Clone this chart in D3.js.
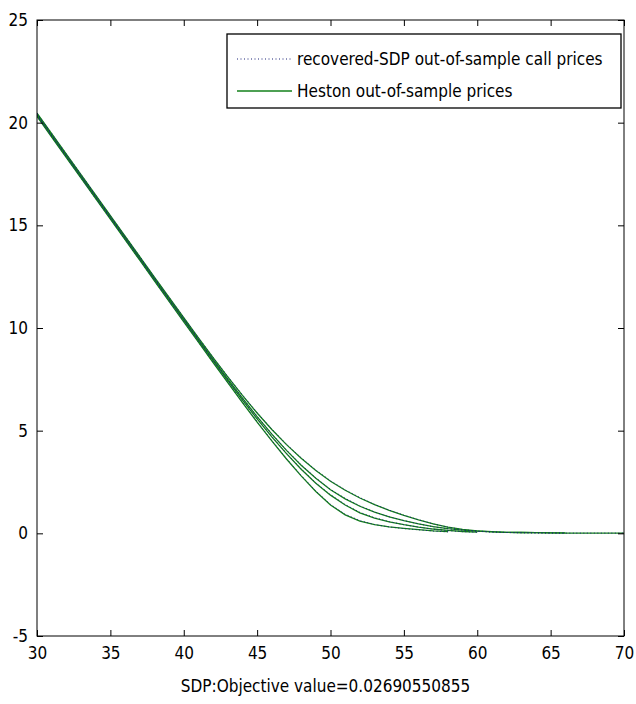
<!DOCTYPE html>
<html><head><meta charset="utf-8">
<script src="https://cdn.jsdelivr.net/npm/d3@7"></script>
<style>
body{margin:0;background:#fff;}
svg text{font-family:"Liberation Sans Narrow","Arial Narrow","DejaVu Sans Condensed",sans-serif;fill:#000;}
</style></head>
<body><svg id="c" width="636" height="704"></svg>
<script>
// ---- data ----
const xTicks = [30,35,40,45,50,55,60,65,70];
const yTicks = [-5,0,5,10,15,20,25];
const xLabel = "SDP:Objective value=0.02690550855";
const legendLabels = ["recovered-SDP out-of-sample call prices","Heston out-of-sample prices"];

const strikesA = [30,31,32,33,34,35,36,37,38,39,40,41,42,43,44,45,46,47,48,49,50,51,52,53,54,55,56,57,58];
const strikesB = [30,31,32,33,34,35,36,37,38,39,40,41,42,43,44,45,46,47,48,49,50,51,52,53,54,55,56,57,58,59,60];
const strikesC = [30,31,32,33,34,35,36,37,38,39,40,41,42,43,44,45,46,47,48,49,50,51,52,53,54,55,56,57,58,59,60,61,62,63,64,65,66];
const strikesD = [30,31,32,33,34,35,36,37,38,39,40,41,42,43,44,45,46,47,48,49,50,51,52,53,54,55,56,57,58,59,60,61,62,63,64,65,66,67,68,69,70];

const hestonA = [20.30,19.30,18.30,17.30,16.30,15.30,14.30,13.30,12.30,11.30,10.30,9.31,8.32,7.34,6.37,5.42,4.50,3.62,2.80,2.04,1.38,0.90,0.60,0.42,0.31,0.24,0.18,0.12,0.08];
const hestonB = [20.36,19.36,18.36,17.36,16.36,15.36,14.37,13.37,12.37,11.37,10.38,9.39,8.41,7.44,6.49,5.57,4.70,3.88,3.12,2.44,1.86,1.38,1.00,0.74,0.56,0.42,0.30,0.21,0.14,0.09,0.06];
const hestonC = [20.41,19.41,18.41,17.41,16.41,15.41,14.42,13.42,12.42,11.42,10.43,9.44,8.47,7.51,6.58,5.68,4.83,4.04,3.32,2.68,2.12,1.68,1.32,1.03,0.80,0.62,0.46,0.33,0.23,0.16,0.11,0.07,0.05,0.04,0.03,0.02,0.02];
const hestonD = [20.47,19.47,18.47,17.47,16.47,15.47,14.48,13.48,12.48,11.49,10.50,9.52,8.56,7.62,6.72,5.86,5.06,4.32,3.66,3.06,2.54,2.10,1.72,1.40,1.12,0.88,0.66,0.46,0.30,0.19,0.12,0.08,0.05,0.04,0.03,0.02,0.01,0.01,0.01,0.01,0.01];

const sdpA = [20.31,19.31,18.30,17.31,16.30,15.31,14.30,13.31,12.31,11.30,10.31,9.32,8.33,7.35,6.39,5.44,4.52,3.64,2.82,2.06,1.41,0.93,0.62,0.43,0.31,0.23,0.17,0.11,0.07];
const sdpB = [20.37,19.36,18.37,17.36,16.37,15.36,14.37,13.38,12.37,11.38,10.39,9.40,8.42,7.46,6.51,5.59,4.72,3.90,3.14,2.46,1.88,1.40,1.02,0.76,0.57,0.42,0.30,0.20,0.13,0.08,0.05];
const sdpC = [20.41,19.42,18.41,17.42,16.41,15.42,14.42,13.43,12.42,11.43,10.44,9.45,8.48,7.53,6.60,5.70,4.85,4.06,3.34,2.70,2.14,1.70,1.34,1.04,0.81,0.62,0.46,0.32,0.22,0.15,0.10,0.06,0.04,0.03,0.02,0.02,0.01];
const sdpD = [20.47,19.48,18.47,17.48,16.48,15.47,14.48,13.49,12.48,11.49,10.51,9.53,8.57,7.64,6.74,5.88,5.08,4.34,3.68,3.08,2.56,2.12,1.74,1.41,1.13,0.88,0.66,0.46,0.30,0.18,0.11,0.07,0.04,0.03,0.02,0.01,0.01,0.01,0.01,0.01,0.01];

// ---- layout ----
const L = 37, R = 624, T = 20, B = 636;
const svg = d3.select("#c");
const x = d3.scaleLinear().domain([30,70]).range([L,R]);
const y = d3.scaleLinear().domain([-5,25]).range([B,T]);

const green = "#13801a", navy = "#1a2377";

svg.append("clipPath").attr("id","clp").append("rect")
  .attr("x",L).attr("y",T).attr("width",R-L).attr("height",B-T);

const line = d3.line().x(d=>x(d[0])).y(d=>y(d[1]));
const heston = [[strikesA,hestonA],[strikesB,hestonB],[strikesC,hestonC],[strikesD,hestonD]];
const sdp = [[strikesA,sdpA],[strikesB,sdpB],[strikesC,sdpC],[strikesD,sdpD]];

const g = svg.append("g").attr("clip-path","url(#clp)");
heston.forEach(([ks,vs])=>{
  g.append("path").datum(ks.map((k,i)=>[k,vs[i]])).attr("d",line)
   .attr("fill","none").attr("stroke",green).attr("stroke-width",1.3);
});
sdp.forEach(([ks,vs])=>{
  g.append("path").datum(ks.map((k,i)=>[k,vs[i]])).attr("d",line)
   .attr("fill","none").attr("stroke",navy).attr("stroke-width",1).attr("stroke-dasharray","1,2.5");
});

// ---- axes (MATLAB style, inward ticks on all sides) ----
const fs = "17px";
const fmt = d => String(d);
const axB = d3.axisBottom(x).tickValues(xTicks).tickFormat(fmt).tickSizeInner(-6).tickSizeOuter(0).tickPadding(11);
const axT = d3.axisTop(x).tickValues(xTicks).tickSizeInner(-6).tickSizeOuter(0).tickFormat("");
const axL = d3.axisLeft(y).tickValues(yTicks).tickFormat(fmt).tickSizeInner(-6).tickSizeOuter(0).tickPadding(9);
const axR = d3.axisRight(y).tickValues(yTicks).tickSizeInner(-6).tickSizeOuter(0).tickFormat("");
function style(sel){
  sel.select(".domain").remove();
  sel.selectAll("line").attr("stroke","#000");
  sel.selectAll("text").style("font-size",fs);
}
svg.append("g").attr("transform",`translate(0,${B})`).call(axB).call(style);
svg.append("g").attr("transform",`translate(0,${T})`).call(axT).call(style);
svg.append("g").attr("transform",`translate(${L},0)`).call(axL).call(style);
svg.append("g").attr("transform",`translate(${R},0)`).call(axR).call(style);
svg.selectAll("text").attr("font-family",null);
svg.append("rect").attr("x",L).attr("y",T).attr("width",R-L).attr("height",B-T)
  .attr("fill","none").attr("stroke","#000").attr("stroke-width",1);

svg.append("text").attr("x",(L+R)/2 - 5).attr("y",692).attr("text-anchor","middle")
  .style("font-size",fs).text(xLabel);

// ---- legend ----
const lg = svg.append("g");
lg.append("rect").attr("x",227).attr("y",34).attr("width",394).attr("height",74)
  .attr("fill","#fff").attr("stroke","#000").attr("stroke-width",1.3);
const rows = [59,91];
lg.append("line").attr("x1",237).attr("x2",292).attr("y1",rows[0]).attr("y2",rows[0])
  .attr("stroke",navy).attr("stroke-dasharray","1,2.5");
lg.append("line").attr("x1",237).attr("x2",292).attr("y1",rows[1]).attr("y2",rows[1])
  .attr("stroke",green).attr("stroke-width",1.3);
legendLabels.forEach((t,i)=>{
  lg.append("text").attr("x",297).attr("y",rows[i]).attr("dy","0.35em").style("font-size",fs).text(t);
});
</script></body></html>
